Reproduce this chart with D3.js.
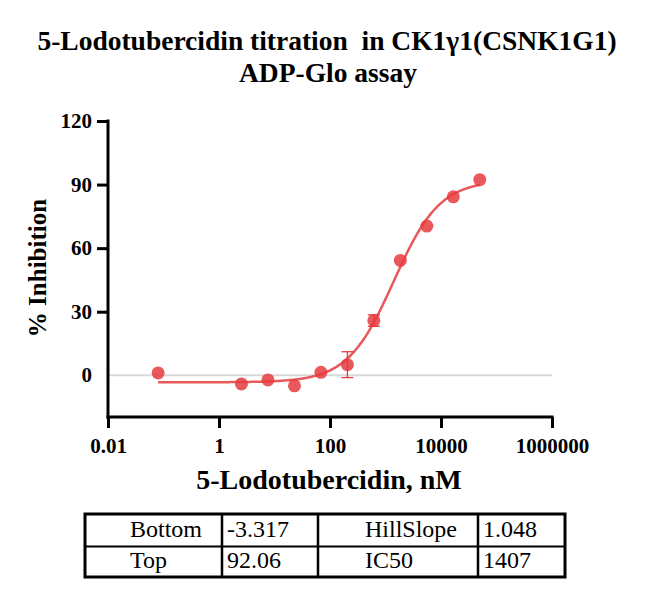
<!DOCTYPE html>
<html>
<head>
<meta charset="utf-8">
<script src="https://cdn.jsdelivr.net/npm/d3@7"></script>
</head>
<body style="margin:0;background:#fff">
<script>
// concentrations (nM) and % inhibition
const conc=[0.08, 2.54, 7.62, 22.9, 68.6, 206, 617, 1852, 5556, 16667, 50000]
const inhibition=[1.1, -4.1, -2.2, -5.0, 1.4, 5.0, 25.8, 54.2, 70.4, 84.2, 92.3]
const errBar=[0, 0, 0, 0, 0, 6.1, 2.7, 0, 0, 0, 0]
const xTicks=[0.01, 1, 100, 10000, 1000000]
const yTicks=[0, 30, 60, 90, 120]
// fit parameters shown in the table
const fitNames=['Bottom','Top','HillSlope','IC50']
const fitValues=['-3.317','92.06','1.048','1407']
const fitBottom=+fitValues[0], fitTop=+fitValues[1], fitHill=+fitValues[2], fitIC50=+fitValues[3]

const width=647
const height=593
const red='#e53b3e'
const serif='"Liberation Serif"'

const svg=d3.select('body').append('svg').attr('width',width).attr('height',height)

const xScale=d3.scaleLog().domain([0.01,1000000]).range([108,552])
const yScale=d3.scaleLinear().domain([-19.7,120]).range([417,121])

// title
svg.append('text').attr('x',327).attr('y',50).attr('text-anchor','middle')
   .attr('xml:space','preserve').style('white-space','pre')
   .style('font-family',serif).style('font-size','27.5px').style('font-weight','bold')
   .text('5-Lodotubercidin titration  in CK1\u03b31(CSNK1G1)')
svg.append('text').attr('x',328).attr('y',82).attr('text-anchor','middle')
   .style('font-family',serif).style('font-size','27.5px').style('font-weight','bold')
   .text('ADP-Glo assay')

// zero line
svg.append('line').attr('x1',xScale(0.01)).attr('x2',xScale(1000000))
   .attr('y1',yScale(0)).attr('y2',yScale(0))
   .attr('stroke','#d9d9d9').attr('stroke-width',2)

// axes
const xAxis=d3.axisBottom(xScale).tickValues(xTicks).tickSize(11).tickSizeOuter(0)
   .tickFormat(d=>d<1?String(d):d3.format('d')(d))
const yAxis=d3.axisLeft(yScale).tickValues(yTicks).tickSize(11).tickSizeOuter(0)

const gx=svg.append('g').attr('transform','translate(0,417)').call(xAxis)
const gy=svg.append('g').attr('transform','translate(108,0)').call(yAxis)
gx.select('.domain').attr('stroke-width',3).attr('d','M'+(xScale(0.01)-1.5)+',0H'+(xScale(1000000)+1.5))
gy.select('.domain').attr('stroke-width',3).attr('d','M0,'+(yScale(120)-1.5)+'V'+(417+1.5))
gx.selectAll('.tick line').attr('stroke-width',3)
gy.selectAll('.tick line').attr('stroke-width',3)
gy.selectAll('.tick').filter(d=>d===0).select('line').remove()
gx.selectAll('.tick text').attr('dy',0).attr('y',36)
gx.selectAll('text').style('font-family',serif).style('font-size','21px').style('font-weight','bold').attr('fill','#000')
gy.selectAll('text').style('font-family',serif).style('font-size','21px').style('font-weight','bold').attr('fill','#000').attr('x',-16)

// axis titles
svg.append('text').attr('transform','translate(46,268) rotate(-90)').attr('text-anchor','middle')
   .style('font-family',serif).style('font-size','25px').style('font-weight','bold').text('% Inhibition')
svg.append('text').attr('x',329).attr('y',489).attr('text-anchor','middle')
   .style('font-family',serif).style('font-size','28px').style('font-weight','bold').text('5-Lodotubercidin, nM')

// fitted curve
const lo=Math.log10(conc[0]), hi=Math.log10(conc[conc.length-1])
const curveX=d3.range(0,201).map(i=>Math.pow(10,lo+i/200*(hi-lo)))
const fit=x=>fitBottom+(fitTop-fitBottom)/(1+Math.pow(fitIC50/x,fitHill))
svg.append('path').datum(curveX)
   .attr('d',d3.line().x(d=>xScale(d)).y(d=>yScale(fit(d))).curve(d3.curveMonotoneX))
   .attr('fill','none').attr('stroke',red).attr('stroke-opacity',0.85).attr('stroke-width',2.5)

// error bars
const pts=conc.map((c,i)=>({c:c,v:inhibition[i],e:errBar[i]}))
const eb=svg.selectAll('g.err').data(pts.filter(d=>d.e>0)).enter().append('g').attr('class','err')
   .attr('stroke',red).attr('stroke-width',1.3)
eb.append('line').attr('x1',d=>xScale(d.c)).attr('x2',d=>xScale(d.c))
   .attr('y1',d=>yScale(d.v+d.e)).attr('y2',d=>yScale(d.v-d.e))
eb.append('line').attr('x1',d=>xScale(d.c)-6).attr('x2',d=>xScale(d.c)+6)
   .attr('y1',d=>yScale(d.v+d.e)).attr('y2',d=>yScale(d.v+d.e))
eb.append('line').attr('x1',d=>xScale(d.c)-6).attr('x2',d=>xScale(d.c)+6)
   .attr('y1',d=>yScale(d.v-d.e)).attr('y2',d=>yScale(d.v-d.e))

// points
svg.selectAll('circle').data(pts).enter().append('circle')
   .attr('cx',d=>xScale(d.c)).attr('cy',d=>yScale(d.v)).attr('r',6.5)
   .attr('fill',red).attr('fill-opacity',0.85)

// parameter table
const tx=[85,222,318,478,565]
const ty=[514,546.5,577]
const tbl=svg.append('g')
tbl.append('rect').attr('x',tx[0]).attr('y',ty[0]).attr('width',tx[4]-tx[0]).attr('height',ty[2]-ty[0])
   .attr('fill','none').attr('stroke','#000').attr('stroke-width',3)
tbl.append('line').attr('x1',tx[0]).attr('x2',tx[4]).attr('y1',ty[1]).attr('y2',ty[1])
   .attr('stroke','#000').attr('stroke-width',2)
tbl.selectAll('line.col').data([tx[1],tx[2],tx[3]]).enter().append('line').attr('class','col')
   .attr('x1',d=>d).attr('x2',d=>d).attr('y1',ty[0]).attr('y2',ty[2])
   .attr('stroke','#000').attr('stroke-width',2.5)
const cells=[
  {t:fitNames[0],x:130,y:537},{t:fitValues[0],x:227,y:537},{t:fitNames[2],x:365,y:537},{t:fitValues[2],x:483,y:537},
  {t:fitNames[1],x:130,y:568},{t:fitValues[1],x:227,y:568},{t:fitNames[3],x:365,y:568},{t:fitValues[3],x:483,y:568}
]
tbl.selectAll('text').data(cells).enter().append('text')
   .attr('x',d=>d.x).attr('y',d=>d.y).text(d=>d.t)
   .style('font-family',serif).style('font-size','24px')
</script>
</body>
</html>
